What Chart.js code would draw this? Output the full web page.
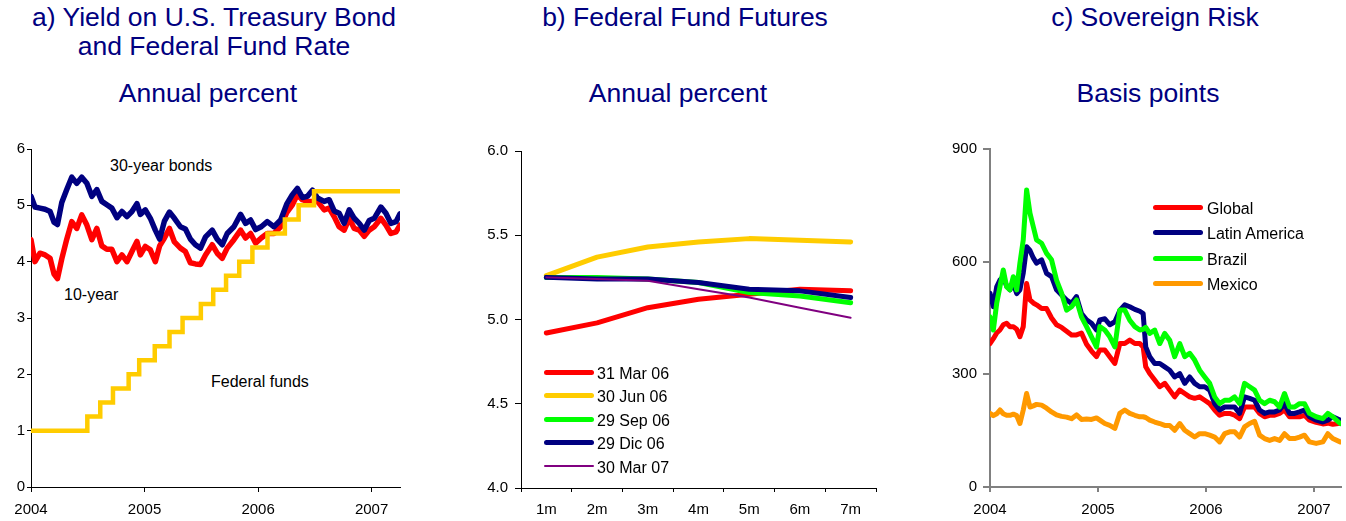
<!DOCTYPE html>
<html>
<head>
<meta charset="utf-8">
<script src="https://cdn.jsdelivr.net/npm/chart.js@4.4.1/dist/chart.umd.min.js"></script>
<style>
  html, body { margin: 0; padding: 0; background: #fff; }
  body { width: 1346px; height: 521px; position: relative; overflow: hidden;
         font-family: 'Liberation Sans', Arial, sans-serif; }
  canvas { position: absolute; }
  .title { position: absolute; width: 460px; text-align: center; color: #000080;
           font-size: 26.5px; line-height: 26.5px; white-space: nowrap; }
  .note { position: absolute; font-size: 16px; line-height: 16px; color: #000; white-space: nowrap; }
  .swatch { position: absolute; width: 50px; border-radius: 3px; }
</style>
</head>
<body>

<div class="title" style="left:-16px; top:4px;">a) Yield on U.S. Treasury Bond</div>
<div class="title" style="left:-16px; top:33px;">and Federal Fund Rate</div>
<div class="title" style="left:-22px; top:80px;">Annual percent</div>

<div class="title" style="left:455px; top:4px;">b) Federal Fund Futures</div>
<div class="title" style="left:448px; top:80px;">Annual percent</div>

<div class="title" style="left:925px; top:4px;">c) Sovereign Risk</div>
<div class="title" style="left:918px; top:80px;">Basis points</div>

<div class="note" style="left:110px; top:158px;">30-year bonds</div>
<div class="note" style="left:64px; top:287px;">10-year</div>
<div class="note" style="left:211px; top:374px;">Federal funds</div>

<canvas id="chartA" width="420" height="391" style="left:0; top:130px;"></canvas>
<canvas id="chartB" width="420" height="391" style="left:460px; top:130px;"></canvas>
<canvas id="chartC" width="406" height="391" style="left:940px; top:130px;"></canvas>

<script>
// ─── Panel a: Treasury yields and fed funds ───────────────
const bondDates = [2004.000, 2004.035, 2004.079, 2004.124, 2004.168, 2004.203, 2004.233, 2004.271, 2004.315, 2004.359,
  2004.403, 2004.447, 2004.492, 2004.536, 2004.580, 2004.624, 2004.668, 2004.712, 2004.757, 2004.801,
  2004.845, 2004.889, 2004.933, 2004.963, 2005.007, 2005.051, 2005.095, 2005.133, 2005.175, 2005.219,
  2005.263, 2005.316, 2005.360, 2005.404, 2005.448, 2005.493, 2005.537, 2005.596, 2005.640, 2005.684,
  2005.728, 2005.787, 2005.846, 2005.890, 2005.934, 2005.978, 2006.028, 2006.081, 2006.140, 2006.199,
  2006.252, 2006.302, 2006.346, 2006.390, 2006.435, 2006.479, 2006.523, 2006.582, 2006.626, 2006.670,
  2006.714, 2006.758, 2006.803, 2006.847, 2006.891, 2006.935, 2006.979, 2007.023, 2007.082, 2007.126,
  2007.170, 2007.215, 2007.250];
const thirtyYear = [5.16, 4.97, 4.95, 4.93, 4.89, 4.70, 4.66, 5.05, 5.28, 5.50,
  5.39, 5.50, 5.39, 5.16, 5.28, 5.07, 5.01, 4.95, 4.78, 4.89,
  4.80, 4.89, 5.03, 4.84, 4.92, 4.77, 4.56, 4.40, 4.72, 4.88,
  4.77, 4.62, 4.58, 4.40, 4.30, 4.24, 4.44, 4.56, 4.40, 4.30,
  4.50, 4.62, 4.84, 4.68, 4.74, 4.57, 4.62, 4.71, 4.62, 4.74,
  5.02, 5.19, 5.30, 5.14, 5.16, 5.27, 5.13, 5.07, 5.10, 4.90,
  4.86, 4.68, 4.92, 4.77, 4.68, 4.56, 4.73, 4.77, 4.97, 4.86,
  4.68, 4.71, 4.85];
const tenYear = [4.39, 4.00, 4.15, 4.12, 4.06, 3.78, 3.70, 4.05, 4.40, 4.71,
  4.59, 4.83, 4.65, 4.39, 4.59, 4.28, 4.22, 4.22, 4.00, 4.12,
  4.00, 4.18, 4.36, 4.12, 4.27, 4.21, 4.00, 4.28, 4.42, 4.59,
  4.35, 4.24, 4.18, 3.98, 3.96, 3.95, 4.12, 4.30, 4.15, 4.06,
  4.24, 4.39, 4.56, 4.42, 4.50, 4.33, 4.42, 4.50, 4.50, 4.62,
  4.87, 5.01, 5.19, 5.10, 5.07, 5.07, 5.07, 4.92, 4.95, 4.80,
  4.62, 4.56, 4.77, 4.59, 4.56, 4.45, 4.56, 4.62, 4.77, 4.65,
  4.50, 4.53, 4.65];
const fedFundDates = [2004.000, 2004.496, 2004.610, 2004.722, 2004.860, 2004.953, 2005.090, 2005.220, 2005.335,
  2005.496, 2005.605, 2005.718, 2005.834, 2005.950, 2006.083, 2006.236, 2006.357, 2006.493, 2007.250];
const fedFundRates = [1.00, 1.25, 1.50, 1.75, 2.00, 2.25, 2.50, 2.75, 3.00,
  3.25, 3.50, 3.75, 4.00, 4.25, 4.50, 4.75, 5.00, 5.25, 5.25];
const yearTicksA = { min: 2004, max: 2007.25 };

// ─── Panel b: fed fund futures curves ─────────────────────
const futuresHorizons = ['1m', '2m', '3m', '4m', '5m', '6m', '7m'];
const futuresNames = ['31 Mar 06', '30 Jun 06', '29 Sep 06', '29 Dic 06', '30 Mar 07'];
const futures31Mar06 = [4.92, 4.98, 5.07, 5.12, 5.15, 5.18, 5.17];
const futures30Jun06 = [5.26, 5.37, 5.43, 5.46, 5.48, 5.47, 5.46];
const futures29Sep06 = [5.25, 5.25, 5.24, 5.22, 5.16, 5.14, 5.10];
const futures29Dic06 = [5.25, 5.24, 5.24, 5.22, 5.18, 5.17, 5.13];
const futures30Mar07 = [5.25, 5.24, 5.23, 5.18, 5.13, 5.07, 5.01];

// ─── Panel c: sovereign spreads (basis points) ────────────
const spreadDates = [2004.000, 2004.031, 2004.062, 2004.092, 2004.123, 2004.154, 2004.185, 2004.216, 2004.247, 2004.277,
  2004.308, 2004.339, 2004.370, 2004.401, 2004.431, 2004.478, 2004.524, 2004.570, 2004.616, 2004.663,
  2004.709, 2004.755, 2004.801, 2004.847, 2004.894, 2004.940, 2004.986, 2005.017, 2005.063, 2005.109,
  2005.156, 2005.202, 2005.248, 2005.294, 2005.341, 2005.387, 2005.418, 2005.442, 2005.479, 2005.525,
  2005.572, 2005.618, 2005.664, 2005.710, 2005.757, 2005.803, 2005.849, 2005.895, 2005.941, 2005.988,
  2006.034, 2006.080, 2006.126, 2006.173, 2006.219, 2006.265, 2006.311, 2006.357, 2006.404, 2006.450,
  2006.496, 2006.542, 2006.589, 2006.635, 2006.681, 2006.727, 2006.773, 2006.820, 2006.866, 2006.912,
  2006.958, 2007.020, 2007.082, 2007.128, 2007.174, 2007.242];
const spreadGlobal = [382, 395, 410, 418, 432, 436, 427, 427, 420, 400,
  427, 542, 498, 490, 485, 475, 475, 450, 432, 425,
  415, 405, 405, 410, 380, 362, 347, 365, 365, 347,
  329, 382, 382, 391, 382, 382, 373, 320, 302, 285,
  267, 276, 258, 240, 258, 249, 240, 236, 240, 231,
  222, 205, 191, 196, 196, 191, 182, 213, 213, 213,
  196, 187, 191, 191, 196, 205, 187, 187, 187, 191,
  178, 172, 168, 170, 167, 170];
const spreadLatAm = [516, 480, 533, 551, 560, 535, 525, 542, 515, 525,
  570, 640, 630, 610, 596, 605, 569, 560, 525, 511,
  498, 489, 507, 462, 445, 436, 418, 445, 448, 432,
  440, 470, 485, 480, 473, 468, 462, 373, 347, 329,
  329, 320, 311, 293, 302, 276, 293, 276, 267, 267,
  258, 222, 205, 213, 213, 213, 196, 240, 236, 231,
  205, 196, 200, 200, 205, 222, 196, 196, 200, 205,
  187, 178, 173, 178, 187, 178];
const spreadBrazil = [453, 418, 489, 533, 578, 533, 525, 560, 525, 596,
  658, 791, 729, 693, 658, 649, 622, 605, 551, 516,
  471, 480, 498, 453, 427, 400, 373, 427, 418, 400,
  373, 471, 471, 444, 427, 418, 420, 425, 409, 418,
  382, 409, 391, 347, 382, 347, 356, 338, 311, 293,
  276, 240, 222, 231, 231, 240, 222, 276, 267, 258,
  231, 222, 231, 227, 213, 249, 213, 213, 222, 222,
  196, 187, 182, 196, 187, 169];
const spreadMexico = [196, 190, 195, 205, 195, 191, 191, 194, 190, 169,
  205, 249, 213, 216, 220, 218, 210, 200, 192, 188,
  186, 182, 192, 180, 181, 180, 184, 178, 169, 164,
  156, 196, 205, 196, 191, 187, 187, 185, 178, 173,
  169, 164, 164, 151, 169, 151, 142, 133, 142, 142,
  138, 133, 120, 142, 147, 147, 133, 160, 169, 175,
  138, 129, 124, 129, 124, 142, 129, 129, 133, 138,
  120, 116, 120, 142, 129, 120];
const spreadNames = ['Global', 'Latin America', 'Brazil', 'Mexico'];

const FONT = "'Liberation Sans', Arial, sans-serif";
Chart.defaults.font.family = FONT;
Chart.defaults.color = '#000';

const RED = '#ff0000', NAVY = '#000080', YELLOW = '#ffcc00', GREEN = '#00ff00',
      ORANGE = '#ff9900', PURPLE = '#800080';

function zip(xs, ys) {
  return xs.map((x, i) => ({ x, y: ys[i] }));
}

function lineSet(label, data, color, width, extra) {
  return Object.assign({
    label, data,
    borderColor: color, backgroundColor: color,
    borderWidth: width,
    pointRadius: 0, tension: 0,
    borderJoinStyle: 'round', borderCapStyle: 'round',
  }, extra || {});
}

function axisStyle(color, borderWidth, tickLength, padding, fitSize, isX) {
  return {
    grid: { drawOnChartArea: false, drawTicks: true, tickLength, color, lineWidth: borderWidth },
    border: { display: true, color, width: borderWidth },
    ticks: { padding, color: '#000', font: { size: 15, family: FONT } },
    afterFit: s => { if (isX) s.height = fitSize; else s.width = fitSize; },
  };
}

function baseOptions(padding) {
  return {
    responsive: false,
    animation: false,
    layout: { padding },
    plugins: { legend: { display: false }, tooltip: { enabled: false } },
  };
}

// ─── Panel a ──────────────────────────────────────────────
function renderBondChart() {
  const xAxis = axisStyle('#000', 1, 5, 9, 34, true);
  const yAxis = axisStyle('#000', 1, 4, 2, 31, false);
  xAxis.type = 'linear';
  xAxis.min = yearTicksA.min; xAxis.max = yearTicksA.max;
  Object.assign(xAxis.ticks, { stepSize: 1, includeBounds: false, callback: v => String(v) });
  yAxis.min = 0; yAxis.max = 6;
  Object.assign(yAxis.ticks, { stepSize: 1 });

  new Chart(document.getElementById('chartA'), {
    type: 'line',
    data: {
      datasets: [
        lineSet('Federal funds', zip(fedFundDates, fedFundRates), YELLOW, 4.5,
                { stepped: 'before', borderJoinStyle: 'miter', borderCapStyle: 'butt' }),
        lineSet('30-year bonds', zip(bondDates, thirtyYear), NAVY, 5.5),
        lineSet('10-year', zip(bondDates, tenYear), RED, 5.5),
      ],
    },
    options: Object.assign(baseOptions({ top: 19, right: 20, left: 0, bottom: 0 }),
      { scales: { x: xAxis, y: yAxis } }),
  });
}

// ─── Panel b ──────────────────────────────────────────────
function renderFuturesChart() {
  const xAxis = axisStyle('#000', 1, 4, 9, 33, true);
  const yAxis = axisStyle('#000', 1, 6, 7, 61, false);
  xAxis.type = 'category';
  xAxis.offset = true;
  xAxis.grid.offset = true;
  yAxis.min = 4; yAxis.max = 6;
  Object.assign(yAxis.ticks, { stepSize: 0.5, callback: v => v.toFixed(1) });

  const series = [futures31Mar06, futures30Jun06, futures29Sep06, futures29Dic06, futures30Mar07];
  const colors = [RED, YELLOW, GREEN, NAVY, PURPLE];
  const widths = [5, 5, 5, 5, 2];

  new Chart(document.getElementById('chartB'), {
    type: 'line',
    data: {
      labels: futuresHorizons,
      datasets: series.map((s, i) => lineSet(futuresNames[i], s, colors[i], widths[i], { order: 5 - i })),
    },
    options: Object.assign(baseOptions({ top: 21, right: 4, left: 0, bottom: 0 }),
      { scales: { x: xAxis, y: yAxis } }),
  });

  buildLegend(futuresNames, colors, widths, 544, 597, 373.5, 23.5);
}

// ─── Panel c ──────────────────────────────────────────────
function renderSpreadChart() {
  const xAxis = axisStyle('#808080', 2, 5, 9, 34, true);
  const yAxis = axisStyle('#808080', 2, 7, 6, 50, false);
  xAxis.type = 'linear';
  xAxis.min = 2004; xAxis.max = 2007.25;
  Object.assign(xAxis.ticks, { stepSize: 1, includeBounds: false, callback: v => String(v) });
  yAxis.min = 0; yAxis.max = 900;
  Object.assign(yAxis.ticks, { stepSize: 300 });

  const series = [spreadGlobal, spreadLatAm, spreadBrazil, spreadMexico];
  const colors = [RED, NAVY, GREEN, ORANGE];
  const widths = [5, 5, 5, 5];

  new Chart(document.getElementById('chartC'), {
    type: 'line',
    data: {
      datasets: series.map((s, i) => lineSet(spreadNames[i], zip(spreadDates, s), colors[i], widths[i], { order: 4 - i })),
    },
    options: Object.assign(baseOptions({ top: 19, right: 5, left: 0, bottom: 0 }),
      { scales: { x: xAxis, y: yAxis } }),
  });

  buildLegend(spreadNames, colors, widths, 1153, 1207, 208.5, 25.5);
}

// ─── Helpers ──────────────────────────────────────────────
function buildLegend(names, colors, widths, lineLeft, textLeft, firstY, step) {
  names.forEach((name, i) => {
    const cy = firstY + i * step;
    const sw = document.createElement('div');
    sw.className = 'swatch';
    sw.style.left = lineLeft + 'px';
    sw.style.top = (cy - 1.5 - widths[i] / 2) + 'px';
    sw.style.height = widths[i] + 'px';
    sw.style.background = colors[i];
    document.body.appendChild(sw);

    const tx = document.createElement('div');
    tx.className = 'note';
    tx.style.left = textLeft + 'px';
    tx.style.top = (cy - 8) + 'px';
    tx.textContent = name;
    document.body.appendChild(tx);
  });
}

renderBondChart();
renderFuturesChart();
renderSpreadChart();
</script>
</body>
</html>
